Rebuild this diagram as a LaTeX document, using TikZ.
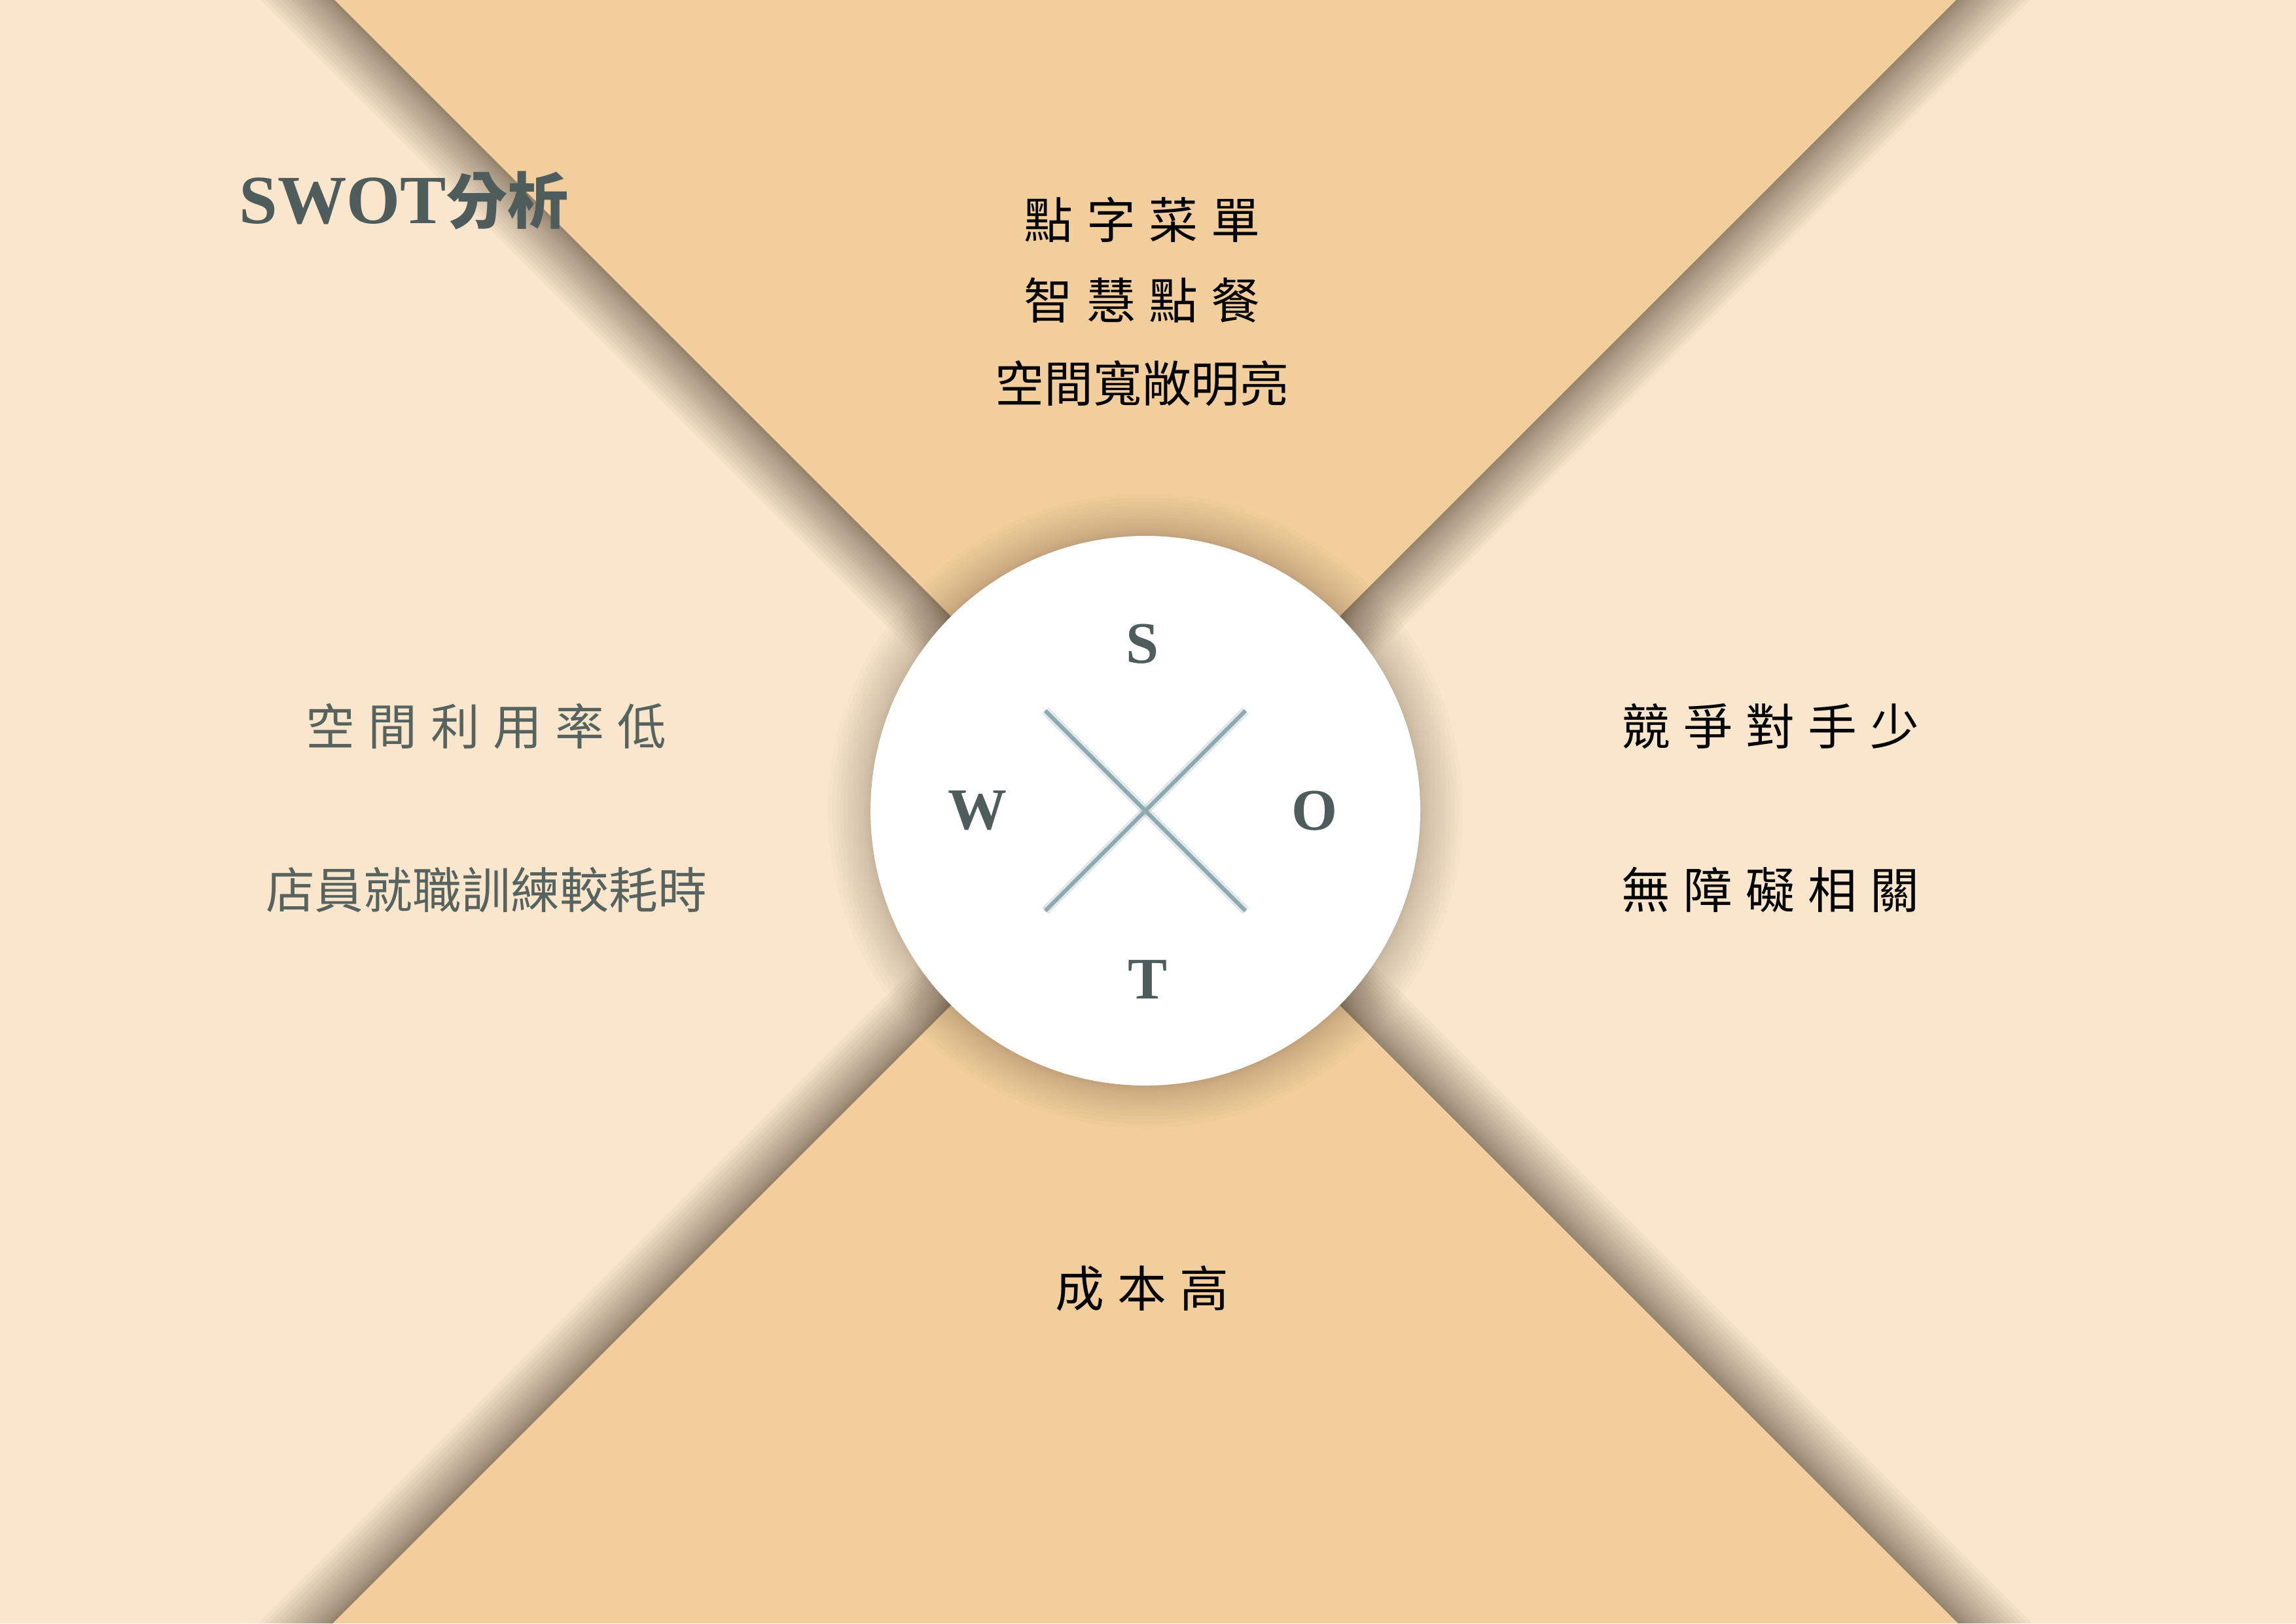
\documentclass[tikz,border=0pt]{standalone}
\usepackage{fontspec}
\setmainfont{Liberation Serif}
\newfontfamily\cjk{Noto Sans CJK TC}
\usetikzlibrary{calc}
\definecolor{paleSand}{HTML}{F9E6CD}
\definecolor{deepSand}{HTML}{F2CE9C}
\definecolor{shadeBrown}{HTML}{4A3A2A}
\definecolor{slateGrey}{HTML}{4E5C5C}
\definecolor{mossGrey}{HTML}{56635F}
\definecolor{crossBlue}{HTML}{8FA9B0}
\tikzset{
	cjkline/.style={font={\cjk\fontsize{21.3}{25}\selectfont\spaceskip=.27em\relax}, inner sep=0pt, text=black},
	weakline/.style={cjkline, text=mossGrey},
	swotletter/.style={font={\fontsize{25.6}{30}\selectfont\bfseries}, inner sep=0pt, text=slateGrey},
	heading/.style={font={\fontsize{30}{36}\selectfont\bfseries}, inner sep=0pt, text=slateGrey},
	edgeshadow/.style={draw=shadeBrown, opacity=0.038, line width=#1cm},
	ringshadow/.style={draw=shadeBrown, opacity=0.02, line width=#1cm},
}

\begin{document}
\begin{tikzpicture}
	%%%%% START %%%%%
	
	\coordinate (c) at (17.5, -12.39);
	\coordinate (tl) at (5.11, 0);
	\coordinate (tr) at (29.89, 0);
	\coordinate (bl) at (5.08, -24.81);
	\coordinate (br) at (29.92, -24.81);
	
	\fill[paleSand] (0, 0) rectangle (35.08, -24.81);
	\fill[deepSand] (tl) -- (tr) -- (c) -- cycle;
	\fill[deepSand] (bl) -- (br) -- (c) -- cycle;
	
	% shadows of the two wedges
	\coordinate (tlx) at ($(c)!1.2!(tl)$);
	\coordinate (trx) at ($(c)!1.2!(tr)$);
	\coordinate (blx) at ($(c)!1.2!(bl)$);
	\coordinate (brx) at ($(c)!1.2!(br)$);
	\begin{scope}
		\clip (0, 0) -- (tl) -- (c) -- (bl) -- (0, -24.81) -- cycle;
		\foreach \i [evaluate=\i as \w using 1.6*(\i/20)^1.5] in {1,...,20}
			\draw[edgeshadow=\w] (tlx) -- (c) -- (blx);
	\end{scope}
	\begin{scope}
		\clip (35.08, 0) -- (tr) -- (c) -- (br) -- (35.08, -24.81) -- cycle;
		\foreach \i [evaluate=\i as \w using 1.6*(\i/20)^1.5] in {1,...,20}
			\draw[edgeshadow=\w] (trx) -- (c) -- (brx);
	\end{scope}
	
	\foreach \i [evaluate=\i as \w using 1.3*(\i/15)^1.5] in {1,...,15}
		\draw[ringshadow=\w] (c) circle (4.2);
	\fill[white] (c) circle (4.2);
	
	\coordinate (xa) at ($(c)+(-1.53, 1.53)$);
	\coordinate (xb) at ($(c)+(1.53, -1.53)$);
	\coordinate (xc) at ($(c)+(1.53, 1.53)$);
	\coordinate (xd) at ($(c)+(-1.53, -1.53)$);
	\draw[crossBlue, line width=0.14cm, opacity=0.25] (xa) -- (xb);
	\draw[crossBlue, line width=0.14cm, opacity=0.25] (xc) -- (xd);
	\draw[crossBlue, line width=0.06cm] (xa) -- (xb);
	\draw[crossBlue, line width=0.06cm] (xc) -- (xd);
	
	\node[swotletter] (sLetter) at (17.45, -9.84) {S};
	\node[swotletter] (wLetter) at (14.93, -12.39) {W};
	\node[swotletter] (oLetter) at (20.08, -12.39) {O};
	\node[swotletter] (tLetter) at (17.53, -14.97) {T};
	
	\node[heading, anchor=west] (heading) at (3.65, -3.06) {SWOT{\cjk\fontsize{26.5}{32}\selectfont 分析}};
	
	\node[cjkline] (strengthA) at (17.45, -3.36) {點 字 菜 單};
	\node[cjkline] (strengthB) at (17.45, -4.59) {智 慧 點 餐};
	\node[cjkline] (strengthC) at (17.45, -5.86) {空間寬敞明亮};
	
	\node[weakline] (weaknessA) at (7.43, -11.10) {空 間 利 用 率 低};
	\node[weakline] (weaknessB) at (7.43, -13.60) {店員就職訓練較耗時};
	
	\node[cjkline] (chanceA) at (27.05, -11.10) {競 爭 對 手 少};
	\node[cjkline] (chanceB) at (27.05, -13.60) {無 障 礙 相 關};
	
	\node[cjkline] (threatA) at (17.45, -19.69) {成 本 高};
	
	%%%%% END %%%%%
\end{tikzpicture}
\end{document}
